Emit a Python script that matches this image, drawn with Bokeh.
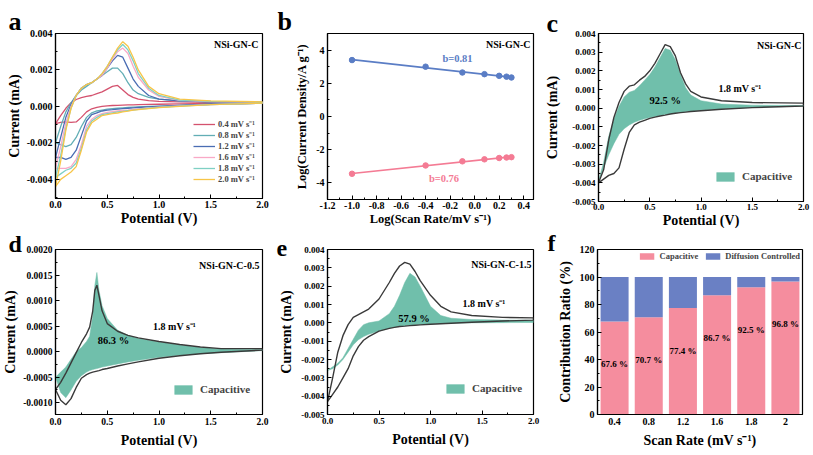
import numpy as np
from bokeh.plotting import figure
from bokeh.models import (Label, Legend, LegendItem, FixedTicker, PrintfTickFormatter,
                          Range1d, FactorRange, ColumnDataSource)
from bokeh.layouts import row, column
from bokeh.embed import file_html
from bokeh.resources import INLINE
from bokeh.core.properties import value

FONT = "Liberation Serif"

# ---------------- Panel a data (CV at several scan rates) ----------------
A_X = [0.0, 0.05, 0.1, 0.15, 0.2, 0.25, 0.3, 0.35, 0.4, 0.45, 0.5, 0.55, 0.6, 0.65,
       0.7, 0.75, 0.8, 0.9, 1.0, 1.2, 1.5, 2.0]
A_RATES = ["0.4 mV s⁻¹", "0.8 mV s⁻¹", "1.2 mV s⁻¹", "1.6 mV s⁻¹", "1.8 mV s⁻¹", "2.0 mV s⁻¹"]
A_UP_04 = [-0.00095, -0.0005, -0.0001, 0.0002, 0.00038, 0.00048, 0.00055, 0.0006, 0.0007, 0.0008, 0.00095,
           0.0011, 0.00115, 0.0009, 0.00065, 0.0005, 0.0004, 0.00032, 0.00028, 0.00025, 0.00022, 0.0002]
A_DN_04 = [-0.00095, -0.00087, -0.00085, -0.00088, -0.00085, -0.0006, -0.0003, -0.00013, -0.00005, 0.0, 0.00003,
           0.00005, 0.00006, 0.00007, 0.00008, 0.00009, 0.0001, 0.00011, 0.00012, 0.00014, 0.00016, 0.00018]
A_UP_08 = [-0.002, -0.0011, -0.0003, 0.0002, 0.0006, 0.0009, 0.0011, 0.0013, 0.0015, 0.0017, 0.0019,
           0.0021, 0.0021, 0.0018, 0.0013, 0.0009, 0.0007, 0.0005, 0.0004, 0.0003, 0.00025, 0.00022]
A_DN_08 = [-0.002, -0.0021, -0.0022, -0.0021, -0.0017, -0.0011, -0.0006, -0.00035, -0.00025, -0.0002, -0.00015,
           -0.00012, -0.0001, -0.00008, -0.00006, -0.00004, -0.00002, 0.0, 0.00002, 0.00006, 0.00012, 0.00018]
A_UP_12 = [-0.0028, -0.0017, -0.0006, 0.0001, 0.0006, 0.001, 0.0012, 0.0013, 0.0015, 0.0017, 0.0021,
           0.0025, 0.0028, 0.0027, 0.0021, 0.0015, 0.0011, 0.0006, 0.0004, 0.0003, 0.00025, 0.00022]
A_DN_12 = [-0.0028, -0.0028, -0.0029, -0.0028, -0.0024, -0.0016, -0.0008, -0.00045, -0.00035, -0.00025, -0.0002,
           -0.00018, -0.00015, -0.00012, -0.0001, -0.00008, -0.00006, -0.00003, 0.0, 0.00005, 0.00012, 0.00018]
A_UP_16 = [-0.0034, -0.0022, -0.0009, 0.0, 0.0006, 0.001, 0.0012, 0.0013, 0.0015, 0.0017, 0.0021,
           0.0026, 0.003, 0.0032, 0.0029, 0.0022, 0.0016, 0.0009, 0.00055, 0.00033, 0.00027, 0.00023]
A_DN_16 = [-0.0034, -0.0034, -0.0034, -0.0033, -0.0029, -0.0021, -0.0011, -0.0007, -0.0005, -0.0004, -0.00033,
           -0.00028, -0.00025, -0.00022, -0.0002, -0.00016, -0.00013, -0.00008, -0.00004, 0.00003, 0.0001, 0.00018]
A_UP_18 = [-0.0039, -0.0027, -0.0012, -0.0001, 0.0006, 0.001, 0.0012, 0.0013, 0.0015, 0.0018, 0.0022,
           0.0027, 0.0031, 0.0034, 0.0031, 0.0025, 0.0018, 0.001, 0.0006, 0.00035, 0.00028, 0.00024]
A_DN_18 = [-0.0039, -0.0037, -0.0035, -0.0034, -0.0031, -0.0023, -0.0013, -0.0008, -0.0006, -0.00045, -0.0004,
           -0.00035, -0.0003, -0.00027, -0.00023, -0.0002, -0.00016, -0.0001, -0.00005, 0.00002, 0.0001, 0.00018]
A_UP_20 = [-0.0044, -0.003, -0.0013, -0.0001, 0.0006, 0.001, 0.0012, 0.0013, 0.0015, 0.0018, 0.0022,
           0.0027, 0.0032, 0.00355, 0.0033, 0.0027, 0.002, 0.0011, 0.0007, 0.0004, 0.0003, 0.00025]
A_DN_20 = [-0.0044, -0.004, -0.0038, -0.0036, -0.0033, -0.0024, -0.0014, -0.0009, -0.0007, -0.0005, -0.00045,
           -0.0004, -0.00036, -0.0003, -0.00026, -0.0002, -0.00017, -0.00012, -0.00007, 0.0, 0.0001, 0.00018]
A_COLORS = ["#d4526e", "#62aeb5", "#4a6db3", "#f9a9c6", "#7fd0c4", "#f7c548"]

# ---------------- Panel b data ----------------
B_LOG_RATE = [-1.0, -0.4, -0.1, 0.08, 0.2, 0.26, 0.3]
B_ANODIC = [3.4, 3.0, 2.65, 2.55, 2.45, 2.4, 2.35]
B_CATHODIC = [-3.45, -2.95, -2.7, -2.58, -2.5, -2.47, -2.45]

# ---------------- Panel c data (1.8 mV/s, NSi-GN-C) ----------------
C_X = [0.0, 0.05, 0.1, 0.15, 0.2, 0.25, 0.3, 0.35, 0.4, 0.45, 0.5, 0.55, 0.6, 0.65, 0.7,
       0.75, 0.8, 0.85, 0.9, 1.0, 1.2, 1.5, 2.0]
C_CV_UP = [-0.004, -0.0033, -0.0017, -0.0005, 0.0003, 0.0009, 0.00118, 0.00125, 0.0015, 0.0017, 0.002,
           0.0024, 0.0029, 0.0034, 0.0033, 0.0028, 0.0019, 0.0013, 0.0009, 0.0006, 0.0004, 0.0003, 0.00027]
C_CV_DN = [-0.004, -0.0038, -0.0036, -0.0035, -0.0032, -0.0022, -0.0013, -0.0009, -0.00075, -0.00065, -0.00055,
           -0.00048, -0.00042, -0.00037, -0.00031, -0.00027, -0.00024, -0.00021, -0.00018, -0.00014, -0.00006,
           0.00003, 0.00012]
C_CAP_UP = [-0.0039, -0.0029, -0.0015, -0.0006, 0.0001, 0.0006, 0.00085, 0.00095, 0.0012, 0.0015, 0.0018,
            0.0022, 0.0027, 0.0032, 0.0031, 0.0026, 0.0018, 0.0011, 0.0007, 0.0004, 0.00022, 0.00016, 0.00014]
C_CAP_DN = [-0.0039, -0.0032, -0.0025, -0.0019, -0.0014, -0.0011, -0.0009, -0.00075, -0.00065, -0.00057, -0.0005,
            -0.00044, -0.00039, -0.00034, -0.0003, -0.00026, -0.00022, -0.00019, -0.00016, -0.00011, -0.00004,
            0.00004, 0.00011]

# ---------------- Panel d data (NSi-GN-C-0.5) ----------------
D_X = [0.0, 0.05, 0.1, 0.15, 0.2, 0.25, 0.3, 0.33, 0.36, 0.38, 0.4, 0.42, 0.45, 0.5, 0.6, 0.7,
       0.8, 1.0, 1.2, 1.4, 1.6, 2.0]
D_CV_UP = [-0.00074, -0.0006, -0.00042, -0.00022, -0.00002, 0.00018, 0.00035, 0.00048, 0.0008, 0.0012, 0.0013,
           0.0011, 0.0008, 0.00055, 0.0004, 0.00032, 0.00027, 0.0002, 0.00014, 0.00009, 0.00006, 0.00006]
D_CV_DN = [-0.00074, -0.00095, -0.00104, -0.00092, -0.0007, -0.00052, -0.00045, -0.00042, -0.0004, -0.00039,
           -0.00038, -0.00037, -0.00035, -0.00033, -0.00028, -0.00024, -0.0002, -0.00013, -0.00008, -0.00004,
           -0.00001, 0.00003]
D_CAP_UP = [-0.0005, -0.0004, -0.0003, -0.00015, 0.0, 0.00008, 0.0002, 0.0003, 0.0007, 0.0013, 0.00155,
            0.0012, 0.0009, 0.00065, 0.00042, 0.00032, 0.00026, 0.00019, 0.00013, 0.00008, 0.00005, 0.00004]
D_CAP_DN = [-0.0005, -0.0008, -0.0009, -0.00075, -0.00058, -0.00047, -0.0004, -0.00037, -0.00035, -0.00034,
            -0.00033, -0.00032, -0.0003, -0.00028, -0.00024, -0.0002, -0.00017, -0.00011, -0.00007, -0.00004,
            -0.00002, 0.00002]

# ---------------- Panel e data (NSi-GN-C-1.5) ----------------
E_X = [0.0, 0.05, 0.1, 0.15, 0.2, 0.25, 0.3, 0.35, 0.4, 0.5, 0.6, 0.65, 0.7, 0.75, 0.8, 0.85, 0.9,
       1.0, 1.1, 1.2, 1.4, 1.7, 2.0]
E_CV_UP = [-0.0043, -0.003, -0.0016, -0.0007, -0.0001, 0.0003, 0.00045, 0.0006, 0.00075, 0.0013, 0.0022,
           0.0027, 0.0031, 0.0033, 0.0032, 0.0028, 0.0023, 0.0015, 0.0009, 0.0006, 0.0004, 0.0003, 0.00027]
E_CV_DN = [-0.0043, -0.0039, -0.0035, -0.003, -0.0025, -0.0018, -0.0013, -0.00095, -0.00075, -0.00045, -0.0003,
           -0.00025, -0.0002, -0.00018, -0.00015, -0.00013, -0.00011, -0.00008, -0.00005, -0.00002, 0.00003,
           0.0001, 0.00015]
E_CAP_UP = [-0.0026, -0.0024, -0.0022, -0.0019, -0.0014, -0.0009, -0.0004, -0.0001, 0.0, 0.0001, 0.0005,
            0.0009, 0.0015, 0.0022, 0.0027, 0.0025, 0.002, 0.0009, 0.0004, 0.00025, 0.00018, 0.00015, 0.00014]
E_CAP_DN = [-0.0026, -0.0025, -0.0023, -0.002, -0.0016, -0.0012, -0.00092, -0.00075, -0.00062, -0.00045, -0.0003,
            -0.00024, -0.0002, -0.00016, -0.00013, -0.00011, -0.00009, -0.00006, -0.00004, -0.00002, 0.0,
            0.00001, 0.00002]

# ---------------- Panel f data ----------------
F_RATES = ["0.4", "0.8", "1.2", "1.6", "1.8", "2"]
F_CAPACITIVE = [67.6, 70.7, 77.4, 86.7, 92.5, 96.8]
F_DIFFUSION = [32.4, 29.3, 22.6, 13.3, 7.5, 3.2]

# ---------------- tick lists ----------------
POT_TICKS = [0.0, 0.5, 1.0, 1.5, 2.0]
POT_MINOR = [0.25, 0.75, 1.25, 1.75]
A_YTICKS = [-0.004, -0.002, 0.0, 0.002, 0.004]
A_YMINOR = [-0.005, -0.003, -0.001, 0.001, 0.003]
B_XTICKS = [-1.2, -1.0, -0.8, -0.6, -0.4, -0.2, 0.0, 0.2, 0.4]
B_XMINOR = [-1.1, -0.9, -0.7, -0.5, -0.3, -0.1, 0.1, 0.3]
B_YTICKS = [-4, -2, 0, 2, 4]
B_YMINOR = [-5, -3, -1, 1, 3, 5]
CE_YTICKS = [-0.005, -0.004, -0.003, -0.002, -0.001, 0.0, 0.001, 0.002, 0.003, 0.004]
CE_YMINOR = [-0.0045, -0.0035, -0.0025, -0.0015, -0.0005, 0.0005, 0.0015, 0.0025, 0.0035]
D_YTICKS = [-0.001, -0.0005, 0.0, 0.0005, 0.001, 0.0015, 0.002]
D_YMINOR = [-0.00075, -0.00025, 0.00025, 0.00075, 0.00125, 0.00175]
F_YTICKS = [0, 20, 40, 60, 80, 100, 120]
F_YMINOR = [10, 30, 50, 70, 90, 110]

GREEN = "#70bfab"
CVCOL = "#3a3a3a"


def style(p, tick_size="10px", label_size="14px", xstand=0, ystand=2, xlab_stand=2):
    p.xgrid.visible = False
    p.ygrid.visible = False
    p.outline_line_color = "black"
    p.outline_line_width = 1.2
    p.outline_line_alpha = 1.0
    p.background_fill_color = "white"
    p.border_fill_color = "white"
    for ax, st in ((p.xaxis[0], xstand), (p.yaxis[0], ystand)):
        ax.axis_line_color = "black"
        ax.axis_line_width = 1.2
        ax.major_tick_in = 4
        ax.major_tick_out = 0
        ax.minor_tick_in = 2
        ax.minor_tick_out = 0
        ax.major_tick_line_color = "black"
        ax.minor_tick_line_color = "black"
        ax.major_label_text_font = FONT
        ax.major_label_text_font_style = "bold"
        ax.major_label_text_font_size = tick_size
        ax.major_label_text_color = "black"
        ax.axis_label_text_font = FONT
        ax.axis_label_text_font_style = "bold"
        ax.axis_label_text_font_size = label_size
        ax.axis_label_text_color = "black"
        ax.major_label_standoff = 3
        ax.axis_label_standoff = st
    p.xaxis[0].major_label_standoff = xlab_stand


def mk(fw, fh, xr, yr, l, r, t, b):
    return figure(frame_width=fw, frame_height=fh, x_range=xr, y_range=yr, output_backend="svg",
                  toolbar_location=None, min_border_left=l, min_border_right=r,
                  min_border_top=t, min_border_bottom=b)


def letter(p, txt, offset, standoff, valign, size="26px"):
    p.title.text = txt
    p.title.text_font = FONT
    p.title.text_font_style = "bold"
    p.title.text_font_size = size
    p.title.text_color = "black"
    p.title.align = "left"
    p.title.vertical_align = valign
    p.title.offset = offset
    try:
        p.title.standoff = standoff
    except Exception:
        p.title.standoff = 0


def tlabel(p, x, y, txt, size="10px", align="center", baseline="middle", color="black"):
    p.add_layout(Label(x=x, y=y, text=txt, text_font=FONT, text_font_style="bold",
                       text_font_size=size, text_align=align, text_baseline=baseline,
                       text_color=color))


def potential_axis(p):
    p.xaxis[0].ticker = FixedTicker(ticks=POT_TICKS, minor_ticks=POT_MINOR)
    p.xaxis[0].formatter = PrintfTickFormatter(format="%.1f")
    p.xaxis[0].axis_label = "Potential (V)"


def cap_legend(p, rend, lx, ly):
    lg = Legend(items=[LegendItem(label="Capacitive", renderers=[rend])], location=(lx, ly),
                label_text_font=FONT, label_text_font_style="bold", label_text_font_size="11px",
                glyph_width=22, glyph_height=11, label_height=11, label_standoff=6, padding=2,
                margin=0, border_line_alpha=0, background_fill_alpha=0)
    p.add_layout(lg)


def cv_panel(fw, fh, yr, l, r, t, b, xs, cv_up, cv_dn, cap_up, cap_dn, yticks, yminor, fmt, tsize,
             name, pct, pct_xy, rate_xy, name_xy, leg_xy, ystand, xstand, xls):
    p = mk(fw, fh, Range1d(0, 2), Range1d(*yr), l, r, t, b)
    style(p, tick_size=tsize, ystand=ystand, xstand=xstand, xlab_stand=xls)
    potential_axis(p)
    p.yaxis[0].ticker = FixedTicker(ticks=yticks, minor_ticks=yminor)
    p.yaxis[0].formatter = PrintfTickFormatter(format=fmt)
    p.yaxis[0].axis_label = "Current (mA)"
    px = list(xs) + list(xs)[::-1]
    pyv = list(cap_up) + list(cap_dn)[::-1]
    rp = p.patch(px, pyv, fill_color=GREEN, line_color=GREEN, line_width=0.5)
    cy = list(cv_up) + list(cv_dn)[::-1]
    p.line(px, cy, line_color=CVCOL, line_width=1.4)
    tlabel(p, name_xy[0], name_xy[1], name, align="right", baseline="top")
    tlabel(p, rate_xy[0], rate_xy[1], "1.8 mV s⁻¹")
    tlabel(p, pct_xy[0], pct_xy[1], pct, size="10.5px")
    cap_legend(p, rp, *leg_xy)
    return p


# ---------------- Panel a ----------------
pa = mk(207, 165, Range1d(0, 2), Range1d(-0.00505, 0.004), 55, 8, 33, 32)
style(pa)
potential_axis(pa)
pa.yaxis[0].ticker = FixedTicker(ticks=A_YTICKS, minor_ticks=A_YMINOR)
pa.yaxis[0].formatter = PrintfTickFormatter(format="%.3f")
pa.yaxis[0].axis_label = "Current (mA)"
items = []
for lab, up, dn, col in zip(A_RATES, [A_UP_04, A_UP_08, A_UP_12, A_UP_16, A_UP_18, A_UP_20],
                            [A_DN_04, A_DN_08, A_DN_12, A_DN_16, A_DN_18, A_DN_20], A_COLORS):
    r = pa.line(A_X + A_X[::-1], up + dn[::-1], line_color=col, line_width=1.3)
    items.append(LegendItem(label=lab, renderers=[r]))
pa.add_layout(Legend(items=items, location=(138, 14), label_text_font=FONT,
                     label_text_font_style="bold", label_text_font_size="8.5px",
                     glyph_width=22, glyph_height=8, label_height=8, label_standoff=3,
                     spacing=0, padding=0, margin=0, border_line_alpha=0, background_fill_alpha=0))
tlabel(pa, 1.96, 0.0037, "NSi-GN-C", align="right", baseline="top")
letter(pa, "a", -47, -4, "bottom")

# ---------------- Panel b ----------------
pb = mk(206, 166, Range1d(-1.2, 0.48), Range1d(-5, 5), 57, 7, 32, 32)
style(pb, label_size="12.5px", ystand=4)
pb.xaxis[0].ticker = FixedTicker(ticks=B_XTICKS, minor_ticks=B_XMINOR)
pb.xaxis[0].formatter = PrintfTickFormatter(format="%.1f")
pb.yaxis[0].ticker = FixedTicker(ticks=B_YTICKS, minor_ticks=B_YMINOR)
pb.yaxis[0].formatter = PrintfTickFormatter(format="%d")
pb.xaxis[0].axis_label = "Log(Scan Rate/mV s⁻¹)"
pb.yaxis[0].axis_label = "Log(Current Density/A g⁻¹)"
xb = np.array(B_LOG_RATE)
for ys, col in ((B_ANODIC, "#5a7dc5"), (B_CATHODIC, "#f47b94")):
    k, c0 = np.polyfit(xb, np.array(ys), 1)
    fx = [xb.min(), xb.max()]
    pb.line(fx, [k * v + c0 for v in fx], line_color=col, line_width=1.6)
    pb.scatter(B_LOG_RATE, ys, size=5.5, fill_color=col, line_color=col)
tlabel(pb, -0.14, 3.52, "b=0.81", size="10.5px", color="#5a7dc5")
tlabel(pb, -0.25, -3.72, "b=0.76", size="10.5px", color="#f47b94")
tlabel(pb, 0.455, 4.68, "NSi-GN-C", align="right", baseline="top")
letter(pb, "b", -50, -5, "bottom")

# ---------------- Panel c ----------------
pc = cv_panel(205, 168, (-0.005, 0.004), 58, 10, 29, 33, C_X, C_CV_UP, C_CV_DN, C_CAP_UP, C_CAP_DN,
              CE_YTICKS, CE_YMINOR, "%.3f", "9px", "NSi-GN-C", "92.5 %", (0.65, 0.0004),
              (1.38, 0.00103), (1.98, 0.00365), (114, 17), 9, 0, 2)
letter(pc, "c", -52, -8, "bottom")

# ---------------- Panel d ----------------
pd_ = cv_panel(207, 165, (-0.00123, 0.002), 55, 8, 18, 42, D_X, D_CV_UP, D_CV_DN, D_CAP_UP, D_CAP_DN,
               D_YTICKS, D_YMINOR, "%.4f", "9.5px", "NSi-GN-C-0.5", "86.3 %", (0.56, 0.00021),
               (1.15, 0.0005), (1.97, 0.0018), (115, 17), 2, 5, 3)
letter(pd_, "d", -47, -18, "top", "24px")

# ---------------- Panel e ----------------
pe = cv_panel(206, 165, (-0.005, 0.004), 57, 7, 19, 41, E_X, E_CV_UP, E_CV_DN, E_CAP_UP, E_CAP_DN,
              CE_YTICKS, CE_YMINOR, "%.3f", "9px", "NSi-GN-C-1.5", "57.9 %", (0.84, 0.00024),
              (1.52, 0.00105), (1.98, 0.0035), (115, 18), 4, 5, 3)
letter(pe, "e", -51, -17, "top", "24px")

# ---------------- Panel f ----------------
srcf = ColumnDataSource(dict(rate=F_RATES, cap=F_CAPACITIVE, dif=F_DIFFUSION,
                             lab=["%.1f %%" % v for v in F_CAPACITIVE],
                             ly=[v - 31 for v in F_CAPACITIVE]))
pf = mk(205, 165, FactorRange(*F_RATES), Range1d(0, 120), 57, 11, 19, 41)
style(pf, ystand=4, xstand=5, xlab_stand=3)
pf.yaxis[0].ticker = FixedTicker(ticks=F_YTICKS, minor_ticks=F_YMINOR)
pf.yaxis[0].axis_label = "Contribution Ratio (%)"
pf.xaxis[0].axis_label = "Scan Rate (mV s⁻¹)"
pf.xaxis[0].major_tick_in = 0
rs = pf.vbar_stack(["cap", "dif"], x="rate", width=0.82, source=srcf,
                   color=["#f58d9e", "#6a80c4"], line_color=None)
pf.text(x="rate", y="ly", text="lab", source=srcf, text_font=value(FONT), text_font_style="bold",
        text_font_size="9px", text_align="center", text_baseline="middle", text_color="black")
pf.add_layout(Legend(items=[LegendItem(label="Capacitive", renderers=[rs[0]]),
                            LegendItem(label="Diffusion Controlled", renderers=[rs[1]])],
                     location="top_right", orientation="horizontal", label_text_font=FONT,
                     label_text_font_style="bold", label_text_font_size="8.5px",
                     glyph_width=18, glyph_height=8, label_height=8, label_standoff=4,
                     spacing=5, padding=2, margin=0, border_line_alpha=0, background_fill_alpha=0))
letter(pf, "f", -50, -17, "top", "24px")

layout = column(row(pa, pb, pc), row(pd_, pe, pf))
open("out.html", "w").write(file_html(layout, INLINE))
